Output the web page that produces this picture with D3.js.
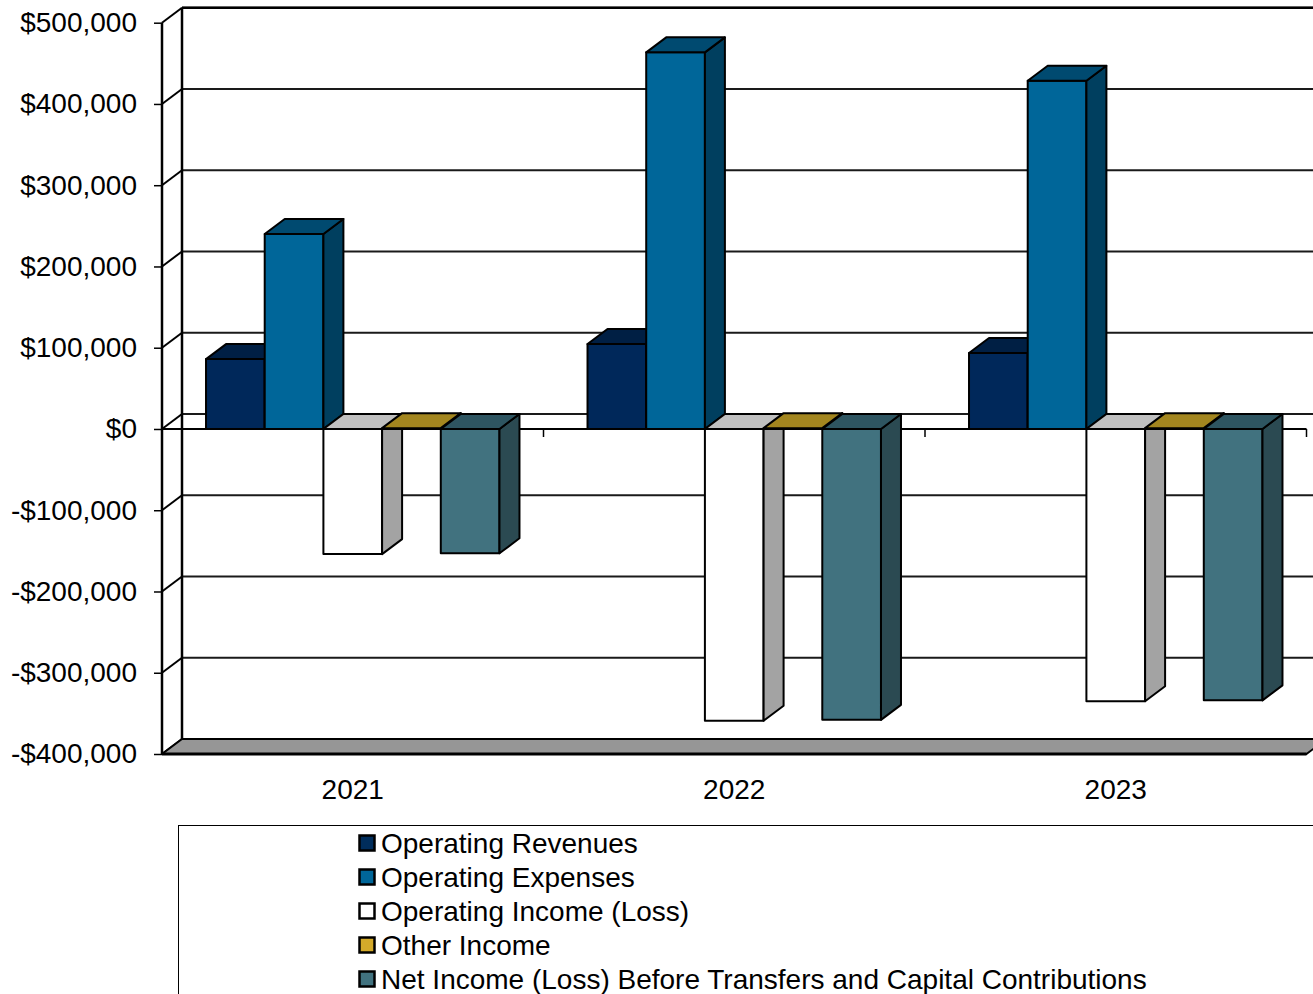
<!DOCTYPE html>
<html>
<head>
<meta charset="utf-8">
<script src="https://cdn.jsdelivr.net/npm/d3@7"></script>
<style>
  html, body { margin: 0; padding: 0; background: #fff; }
  svg { display: block; font-family: "Liberation Sans", Arial, sans-serif; }
</style>
</head>
<body>
<svg id="chart" width="1313" height="994"></svg>
<script>
// Financial summary by fiscal year
const years = ["2021", "2022", "2023"];
const seriesNames = [
  "Operating Revenues",
  "Operating Expenses",
  "Operating Income (Loss)",
  "Other Income",
  "Net Income (Loss) Before Transfers and Capital Contributions"
];
const operatingRevenues = [86000, 104500, 93500];
const operatingExpenses = [240000, 463500, 428500];
const operatingIncome = [-154000, -359000, -335000];
const otherIncome = [1000, 1000, 1000];
const netIncome = [-153000, -358000, -334000];
const yTicks = [-400000, -300000, -200000, -100000, 0, 100000, 200000, 300000, 400000, 500000];

const seriesValues = [operatingRevenues, operatingExpenses, operatingIncome, otherIncome, netIncome];

// face colours per series: front, top, side, legend swatch
const palette = [
  { front: "#00285a", top: "#001f44", side: "#001c3c", swatch: "#002d5c" },
  { front: "#006699", top: "#004a70", side: "#003f5f", swatch: "#006699" },
  { front: "#ffffff", top: "#c0c0c0", side: "#a3a3a3", swatch: "#ffffff" },
  { front: "#d4aa2a", top: "#a3861f", side: "#8a7019", swatch: "#d4aa2a" },
  { front: "#41727f", top: "#2e5561", side: "#2b4a52", swatch: "#41727f" }
];

const FONT = "28px";
const svg = d3.select("#chart");

// 3D depth offset of walls and bars
const DX = 20, DY = -15;

const x0 = 162, x1 = 1306.5;
const y = d3.scaleLinear().domain([-400000, 500000]).range([754, 22.7]);
const xCat = d3.scaleBand().domain(years).range([x0, x1]).padding(0);
const xSer = d3.scaleBand().domain(seriesNames).range([0, xCat.bandwidth()])
  .paddingInner(0).paddingOuter(0.75);

const yMin = y(-400000), yMax = y(500000), yZero = y(0);

// back wall
svg.append("rect")
  .attr("x", x0 + DX).attr("y", yMax + DY)
  .attr("width", x1 - x0 + 40).attr("height", yMin - yMax)
  .attr("fill", "#fff");

// back wall gridlines
svg.append("g").selectAll("line").data(yTicks).join("line")
  .attr("x1", x0 + DX).attr("x2", x1 + DX + 20)
  .attr("y1", d => y(d) + DY).attr("y2", d => y(d) + DY)
  .attr("stroke", "#1a1a1a").attr("stroke-width", 2);

// side wall diagonal gridlines
svg.append("g").selectAll("line").data(yTicks).join("line")
  .attr("x1", x0).attr("x2", x0 + DX)
  .attr("y1", d => y(d)).attr("y2", d => y(d) + DY)
  .attr("stroke", "#000").attr("stroke-width", 2);

svg.append("line")
  .attr("x1", x0 + DX).attr("x2", x0 + DX)
  .attr("y1", yMax + DY).attr("y2", yMin + DY)
  .attr("stroke", "#000").attr("stroke-width", 2.5);

// floor
svg.append("polygon")
  .attr("points", [[x0, yMin], [x1, yMin], [x1 + DX, yMin + DY], [x0 + DX, yMin + DY]].map(p => p.join(",")).join(" "))
  .attr("fill", "#969696").attr("stroke", "#000").attr("stroke-width", 2)
  .attr("stroke-linejoin", "round");
svg.append("line")
  .attr("x1", x0).attr("x2", x1).attr("y1", yMin).attr("y2", yMin)
  .attr("stroke", "#000").attr("stroke-width", 3);

// front zero line and category ticks
svg.append("line")
  .attr("x1", x0).attr("x2", x1).attr("y1", yZero).attr("y2", yZero)
  .attr("stroke", "#000").attr("stroke-width", 2);
svg.append("g").selectAll("line").data(years).join("line")
  .attr("x1", d => xCat(d) + xCat.bandwidth()).attr("x2", d => xCat(d) + xCat.bandwidth())
  .attr("y1", yZero).attr("y2", yZero + 8)
  .attr("stroke", "#000").attr("stroke-width", 1.5);

// value axis on the front edge
const yAxis = d3.axisLeft(y).tickValues(yTicks).tickSize(8).tickPadding(17)
  .tickFormat(d => (d < 0 ? "-$" : "$") + d3.format(",")(Math.abs(d)));
const gy = svg.append("g").attr("transform", `translate(${x0},0)`).call(yAxis);
gy.select(".domain").remove();
gy.selectAll(".tick line").attr("stroke", "#000").attr("stroke-width", 1.5);
gy.selectAll(".tick text").attr("font-size", FONT).attr("fill", "#000")
  .attr("font-family", "'Liberation Sans', Arial, sans-serif");

svg.append("line")
  .attr("x1", x0).attr("x2", x0).attr("y1", yMax).attr("y2", yMin)
  .attr("stroke", "#000").attr("stroke-width", 2.5);
svg.append("line")
  .attr("x1", x0 + DX).attr("x2", x1 + DX + 20).attr("y1", yMax + DY).attr("y2", yMax + DY)
  .attr("stroke", "#000").attr("stroke-width", 2.5);

// bars, drawn left to right
const bars = [];
years.forEach((yr, i) => {
  seriesNames.forEach((s, j) => {
    bars.push({ yr, s, j, v: seriesValues[j][i] });
  });
});

const pts = arr => arr.map(p => p.join(",")).join(" ");
const gBars = svg.append("g");
bars.forEach(b => {
  const c = palette[b.j];
  const bx = xCat(b.yr) + xSer(b.s);
  const w = xSer.bandwidth();
  const yv = y(b.v);
  const top = Math.min(yv, yZero), bot = Math.max(yv, yZero);
  const g = gBars.append("g")
    .attr("stroke", "#000").attr("stroke-width", 2).attr("stroke-linejoin", "round");
  // front face
  g.append("rect").attr("x", bx).attr("y", top).attr("width", w).attr("height", Math.max(bot - top, 0.01))
    .attr("fill", c.front);
  // side face
  g.append("polygon")
    .attr("points", pts([[bx + w, top], [bx + w + DX, top + DY], [bx + w + DX, bot + DY], [bx + w, bot]]))
    .attr("fill", c.side);
  // top face
  g.append("polygon")
    .attr("points", pts([[bx, top], [bx + w, top], [bx + w + DX, top + DY], [bx + DX, top + DY]]))
    .attr("fill", c.top);
});

// category labels
svg.append("g").selectAll("text").data(years).join("text")
  .attr("x", d => xCat(d) + xCat.bandwidth() / 2)
  .attr("y", 799)
  .attr("text-anchor", "middle")
  .attr("font-size", FONT)
  .text(d => d);

// legend
svg.append("rect")
  .attr("x", 178.5).attr("y", 825.5).attr("width", 1200).attr("height", 300)
  .attr("fill", "#fff").attr("stroke", "#000").attr("stroke-width", 1);

const legend = svg.append("g").selectAll("g").data(seriesNames).join("g")
  .attr("transform", (d, i) => `translate(359, ${843 + i * 34})`);
legend.append("rect")
  .attr("x", 0.5).attr("y", -7.5).attr("width", 15).attr("height", 15)
  .attr("fill", (d, i) => palette[i].swatch)
  .attr("stroke", "#000").attr("stroke-width", 2.5);
legend.append("text")
  .attr("x", 22).attr("y", 10)
  .attr("font-size", FONT)
  .text(d => d);
</script>
</body>
</html>
